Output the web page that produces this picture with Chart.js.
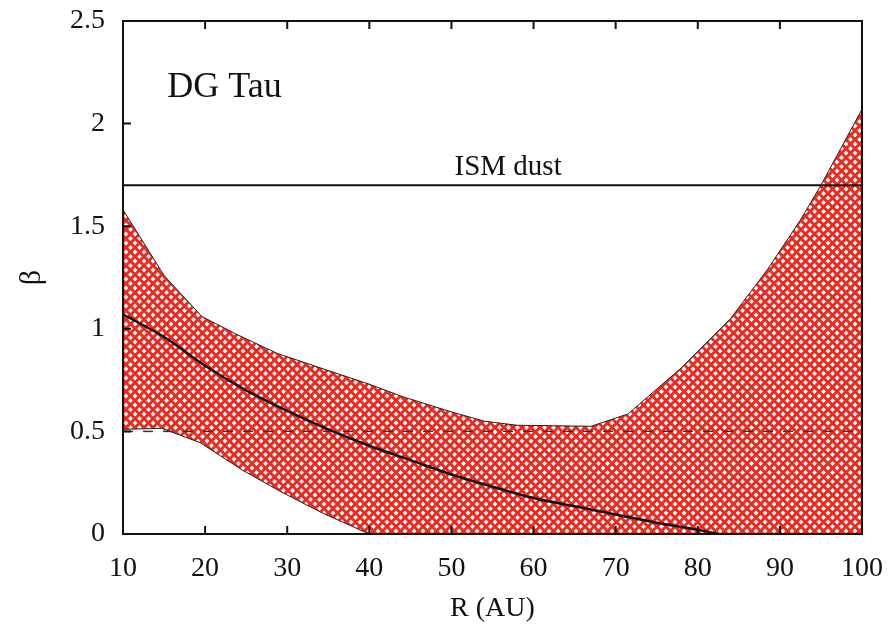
<!DOCTYPE html>
<html>
<head>
<meta charset="utf-8">
<script src="https://cdn.jsdelivr.net/npm/chart.js@4.4.0/dist/chart.umd.min.js"></script>
<style>
  html, body { margin: 0; padding: 0; background: #fff; }
  #wrap { width: 893px; height: 626px; }
</style>
</head>
<body>
<div id="wrap"><canvas id="c" width="893" height="626"></canvas></div>
<script>
// beta profile of DG Tau vs radius

// upper edge of the allowed region
var upperR    = [10, 15, 19.6, 24, 28.8, 34, 40, 44, 50, 54, 58, 67, 71.5, 78, 84, 88.5, 92.5, 95, 100];
var upperBeta = [1.58, 1.26, 1.06, 0.97, 0.88, 0.81, 0.73, 0.67, 0.595, 0.55, 0.53, 0.525, 0.585, 0.81, 1.05, 1.29, 1.53, 1.70, 2.07];

// lower edge
var lowerR    = [10, 14.7, 19.4, 24.6, 29.5, 34.4, 40, 100];
var lowerBeta = [0.51, 0.515, 0.445, 0.31, 0.20, 0.10, 0, 0];

// best fit curve
var fitR    = [10, 15, 20, 25, 30, 35, 40, 45, 50, 55, 60, 65, 70, 75, 80, 82.5];
var fitBeta = [1.07, 0.96, 0.82, 0.70, 0.60, 0.51, 0.43, 0.36, 0.29, 0.23, 0.175, 0.135, 0.095, 0.055, 0.02, 0];

var ismBeta = 1.7;
var refBeta = 0.5;

var xTicks = [10, 20, 30, 40, 50, 60, 70, 80, 90, 100];
var yTicks = [0, 0.5, 1, 1.5, 2, 2.5];

function pts(xs, ys) {
  var out = [];
  for (var i = 0; i < xs.length; i++) out.push({x: xs[i], y: ys[i]});
  return out;
}

// red crosshatch with white diamonds
function hatch() {
  var t = document.createElement('canvas');
  t.width = 9; t.height = 9;
  var g = t.getContext('2d');
  g.fillStyle = '#ec2a1f';
  g.fillRect(0, 0, 9, 9);
  g.fillStyle = '#ffffff';
  var centers = [[0,0],[9,0],[0,9],[9,9],[4.5,4.5]];
  centers.forEach(function(c) {
    g.beginPath();
    g.moveTo(c[0], c[1] - 2.4);
    g.lineTo(c[0] + 2.4, c[1]);
    g.lineTo(c[0], c[1] + 2.4);
    g.lineTo(c[0] - 2.4, c[1]);
    g.closePath();
    g.fill();
  });
  return g.createPattern(t, 'repeat');
}

var serif = "'Liberation Serif', 'DejaVu Serif', serif";

var framePlugin = {
  id: 'frame',
  afterDraw: function(chart) {
    var ctx = chart.ctx, a = chart.chartArea;
    var xs = chart.scales.x, ys = chart.scales.y;
    ctx.save();
    ctx.strokeStyle = '#111';
    ctx.lineWidth = 2;
    ctx.strokeRect(a.left, a.top, a.right - a.left, a.bottom - a.top);
    // inward ticks
    ctx.beginPath();
    xTicks.forEach(function(v) {
      var px = xs.getPixelForValue(v);
      ctx.moveTo(px, a.bottom); ctx.lineTo(px, a.bottom - 8);
      ctx.moveTo(px, a.top); ctx.lineTo(px, a.top + 8);
    });
    yTicks.forEach(function(v) {
      var py = ys.getPixelForValue(v);
      ctx.moveTo(a.left, py); ctx.lineTo(a.left + 8, py);
    });
    ctx.stroke();
    // annotations
    ctx.fillStyle = '#111';
    ctx.font = '36px ' + serif;
    ctx.textAlign = 'left';
    ctx.textBaseline = 'alphabetic';
    ctx.fillText('DG Tau', xs.getPixelForValue(15.4), ys.getPixelForValue(2.13));
    ctx.font = '29px ' + serif;
    ctx.textAlign = 'center';
    ctx.fillText('ISM dust', xs.getPixelForValue(56.9), ys.getPixelForValue(1.75));
    ctx.restore();
  }
};

new Chart(document.getElementById('c'), {
  type: 'line',
  data: {
    datasets: [
      {
        label: 'lower',
        data: pts(lowerR, lowerBeta),
        borderColor: '#222', borderWidth: 1,
        pointRadius: 0, fill: false, tension: 0, order: 4
      },
      {
        label: 'upper',
        data: pts(upperR, upperBeta),
        borderColor: '#222', borderWidth: 1,
        backgroundColor: hatch(),
        pointRadius: 0, fill: {target: 0}, tension: 0, order: 5
      },
      {
        label: 'ref',
        data: pts([10, 100], [refBeta, refBeta]),
        borderColor: '#333', borderWidth: 1.5, borderDash: [10, 10],
        pointRadius: 0, fill: false, order: 3
      },
      {
        label: 'fit',
        data: pts(fitR, fitBeta),
        borderColor: '#111', borderWidth: 2.5,
        pointRadius: 0, fill: false, cubicInterpolationMode: 'monotone', order: 2
      },
      {
        label: 'ISM',
        data: pts([10, 100], [ismBeta, ismBeta]),
        borderColor: '#111', borderWidth: 2,
        pointRadius: 0, fill: false, order: 1
      }
    ]
  },
  options: {
    responsive: false,
    animation: false,
    events: [],
    layout: { padding: { top: 21, right: 31, left: 0, bottom: 0 } },
    plugins: { legend: { display: false }, tooltip: { enabled: false } },
    scales: {
      x: {
        type: 'linear', min: 10, max: 100,
        afterFit: function(s) { s.height = 92; s.paddingLeft = 0; s.paddingRight = 0; },
        afterBuildTicks: function(s) { s.ticks = xTicks.map(function(v) { return {value: v}; }); },
        grid: { display: false, drawTicks: false },
        border: { display: false },
        ticks: { color: '#111', padding: 18, font: { family: serif, size: 28 }, maxRotation: 0 },
        title: { display: true, text: 'R (AU)', color: '#111', font: { family: serif, size: 28 }, padding: { top: 0, bottom: 1 } }
      },
      y: {
        type: 'linear', min: 0, max: 2.5,
        afterFit: function(s) { s.width = 123; s.paddingTop = 0; s.paddingBottom = 0; },
        afterBuildTicks: function(s) { s.ticks = yTicks.map(function(v) { return {value: v}; }); },
        grid: { display: false, drawTicks: false },
        border: { display: false },
        ticks: { color: '#111', padding: 18, font: { family: serif, size: 28 },
                 callback: function(v) { return String(v); } },
        title: { display: true, text: 'β', color: '#111', font: { family: serif, size: 30 }, padding: { top: 14, bottom: 0 } }
      }
    }
  },
  plugins: [framePlugin]
});
</script>
</body>
</html>
